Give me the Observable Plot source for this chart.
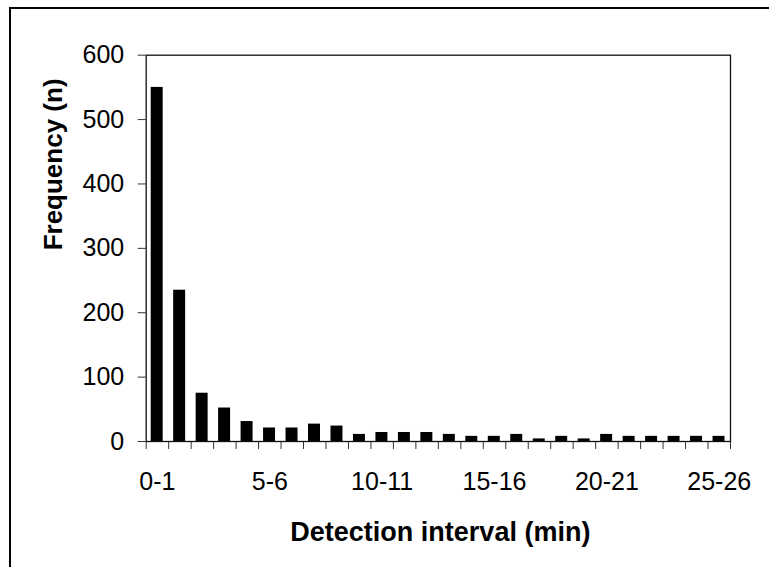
<!DOCTYPE html>
<html>
<head>
<meta charset="utf-8">
<script src="https://cdn.jsdelivr.net/npm/d3@7"></script>
<script src="https://cdn.jsdelivr.net/npm/@observablehq/plot@0.6"></script>
<style>
  html, body { margin: 0; padding: 0; background: white; overflow: hidden; }
  #wrap { position: relative; width: 769px; height: 567px; }
  #border { position: absolute; left: 8.5px; top: 6.5px; width: 900px; height: 700px;
            border-top: 2px solid black; border-left: 2px solid black; pointer-events: none; }
</style>
</head>
<body>
<div id="wrap"><div id="border"></div></div>
<script>
const categories = ["0-1","1-2","2-3","3-4","4-5","5-6","6-7","7-8","8-9","9-10",
  "10-11","11-12","12-13","13-14","14-15","15-16","16-17","17-18","18-19","19-20",
  "20-21","21-22","22-23","23-24","24-25","25-26"];
const frequency = [550, 235, 75, 52, 31, 21, 21, 27, 24, 11,
  14, 14, 14, 11, 8, 8, 11, 4, 8, 4,
  11, 8, 8, 8, 8, 8];
const xTickLabels = ["0-1","5-6","10-11","15-16","20-21","25-26"];
const yTicks = [0, 100, 200, 300, 400, 500, 600];
const xTitle = "Detection interval (min)";
const yTitle = "Frequency (n)";

const rows = categories.map((c, i) => ({i, cat: c, n: frequency[i]}));
const labelPos = xTickLabels.map(l => categories.indexOf(l) + 0.5);
const boundaries = d3.range(0, categories.length + 1);

const chart = Plot.plot({
  width: 769,
  height: 567,
  marginLeft: 145.7,
  marginRight: 39,
  marginTop: 54.7,
  marginBottom: 126,
  style: {fontFamily: "'Liberation Sans', Arial, sans-serif", fontSize: "25px", color: "black", background: "white"},
  x: {type: "linear", domain: [0, categories.length]},
  y: {domain: [0, 600]},
  marks: [
    Plot.rectY(rows, {x1: d => d.i, x2: d => d.i + 1, y: "n", insetLeft: 5, insetRight: 5.5, fill: "black"}),
    Plot.axisY({ticks: yTicks, tickSize: 8, tickPadding: 14, label: null, fontSize: 25, stroke: "#333"}),
    Plot.axisX({ticks: boundaries, tickSize: 8, tickFormat: () => "", label: null, stroke: "#333"}),
    Plot.axisX({ticks: labelPos, tickSize: 0, tickPadding: 31, label: null, fontSize: 25,
      tickFormat: d => categories[Math.floor(d)]}),
    Plot.frame({stroke: "#111", strokeWidth: 1.3}),
    Plot.text([xTitle], {frameAnchor: "bottom", text: d => d, dx: 2, dy: 80, lineAnchor: "top",
      fontSize: 27, fontWeight: "bold", fill: "black"}),
    Plot.text([yTitle], {frameAnchor: "left", text: d => d, rotate: -90, dx: -102.4, dy: 2, lineAnchor: "top",
      fontSize: 26, fontWeight: "bold", fill: "black"})
  ]
});
document.getElementById("wrap").prepend(chart);
</script>
</body>
</html>
